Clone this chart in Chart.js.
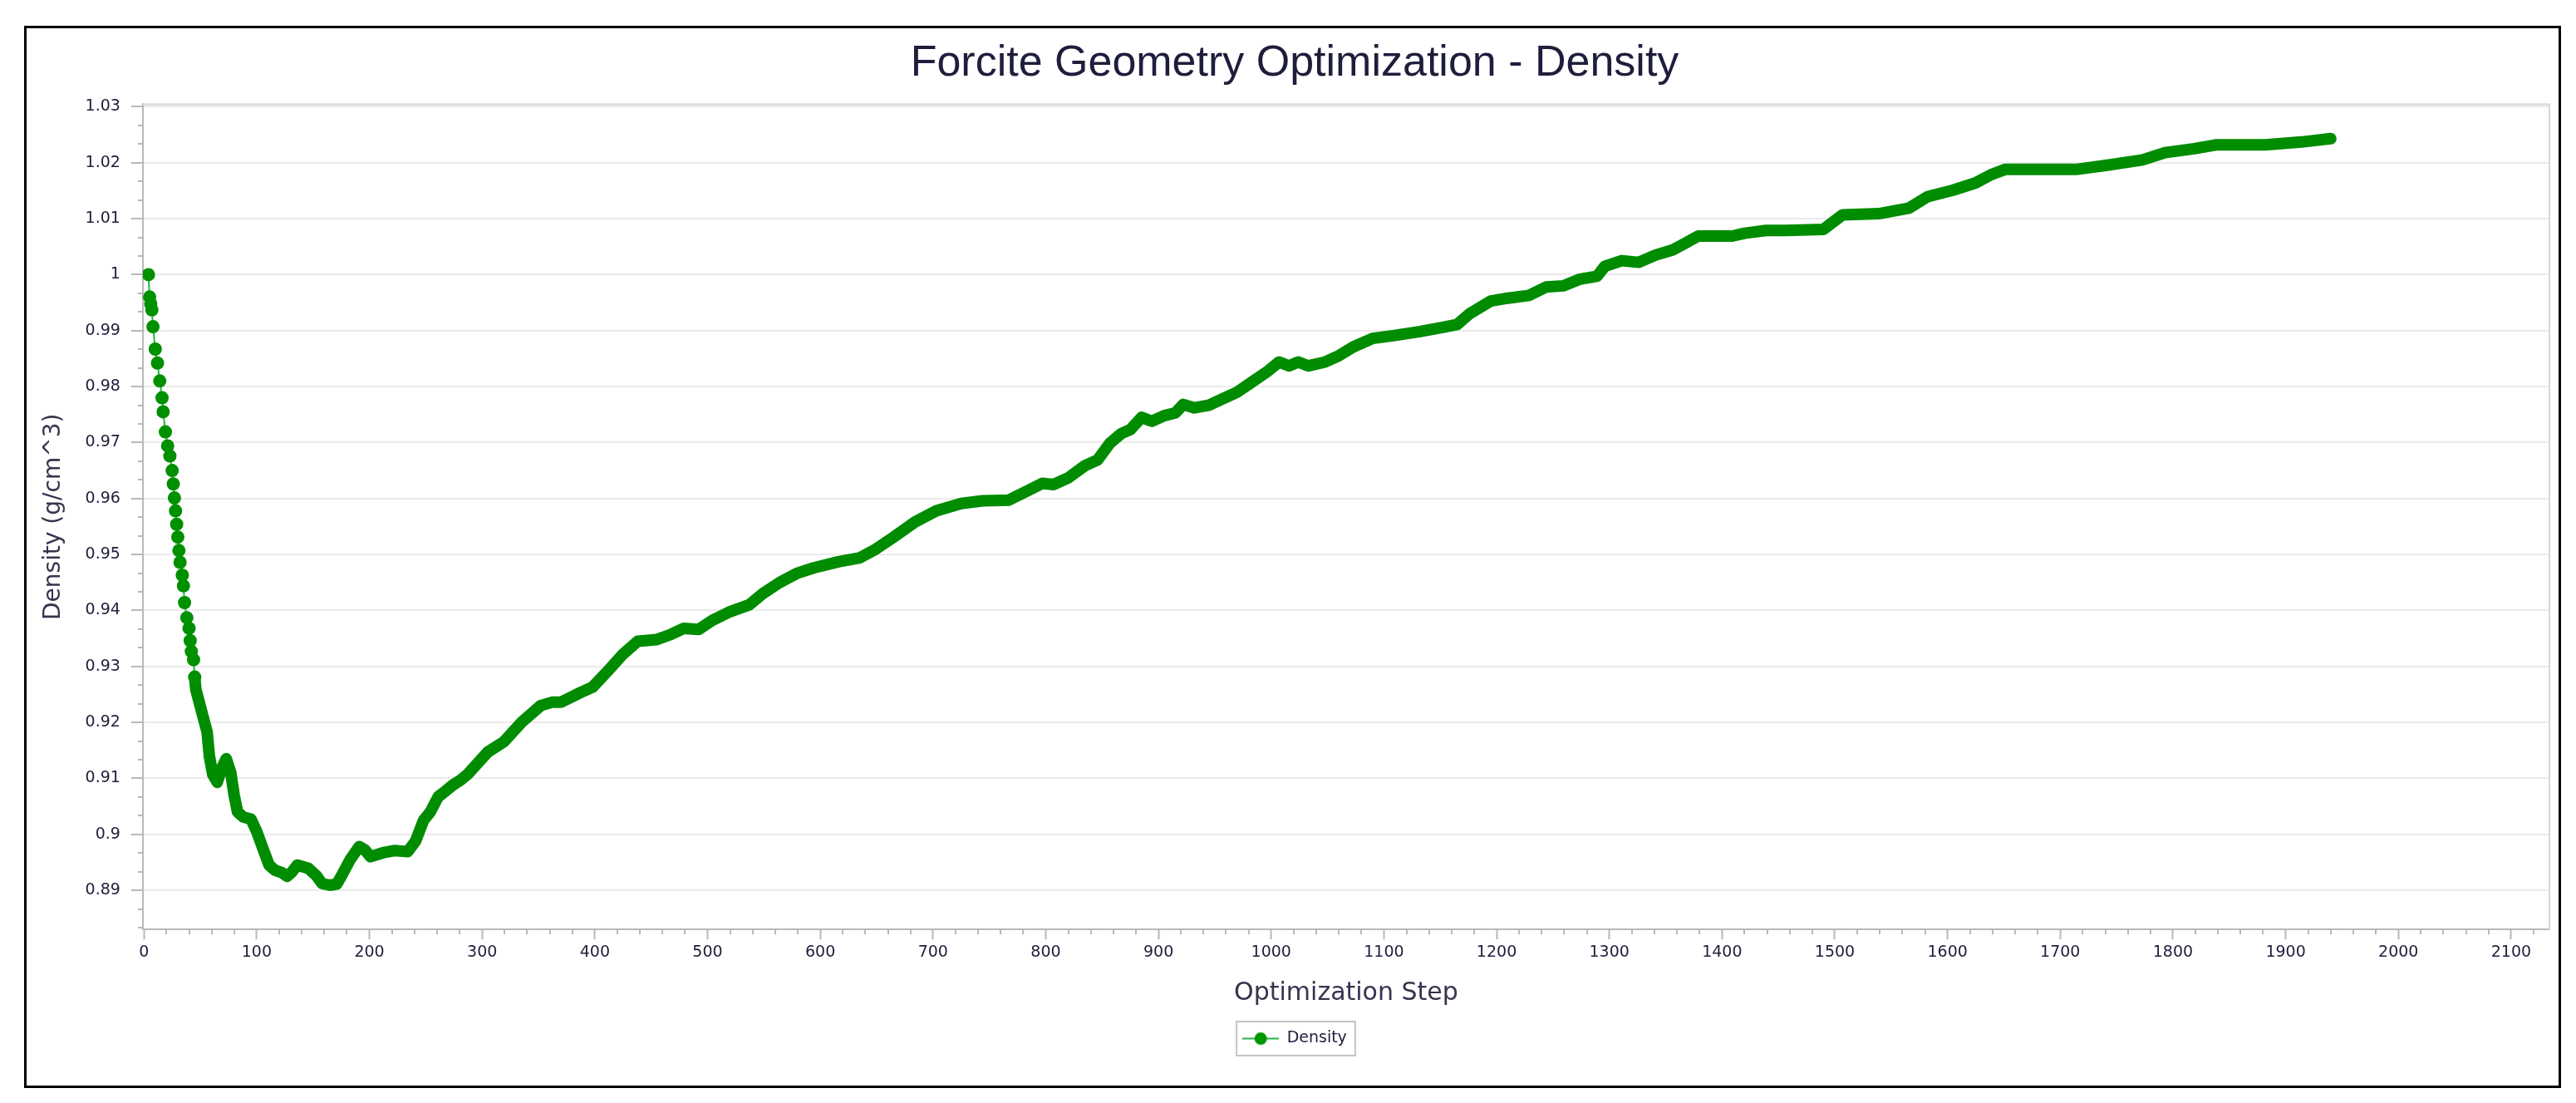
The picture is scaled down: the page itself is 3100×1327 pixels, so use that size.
<!DOCTYPE html>
<html>
<head>
<meta charset="utf-8">
<script src="https://cdn.jsdelivr.net/npm/chart.js@4.4.1/dist/chart.umd.min.js"></script>
<style>
  body { margin: 0; background: #fff; }
  #frame {
    position: absolute;
    left: 29px;
    top: 31px;
    width: 3047px;
    height: 1272px;
    border: 3px solid #000;
  }
  canvas { display: block; }
</style>
</head>
<body>
<div id="frame"><canvas id="densityChart" width="3047" height="1272"></canvas></div>
<script>
// Optimization steps
const steps = [
  4, 5, 6, 7, 8, 10, 12, 14, 16, 17, 19, 21, 23, 25, 26, 27, 28, 29, 30, 31,
  32, 34, 35, 36, 38, 40, 41, 42, 44, 45,
  46, 52, 56, 58, 61, 65, 69, 73, 77, 80, 83, 88, 95, 100, 106, 111, 116, 122, 127, 131,
  136, 146, 153, 158, 165, 171, 175, 183, 191, 196, 201, 212, 222, 234, 241, 248, 254, 261, 268, 274,
  281, 287, 305, 319, 335, 352, 362, 370, 387, 398, 412, 425, 438, 455, 466, 479, 492, 504, 519, 537,
  549, 564, 579, 594, 616, 635, 648, 665, 684, 703, 725, 744, 767, 782, 797, 807, 820, 835, 846, 857,
  867, 875, 885, 894, 905, 915, 922, 932, 945, 958, 969, 980, 996, 1007, 1016, 1024, 1033, 1048, 1059, 1073,
  1090, 1108, 1131, 1153, 1165, 1176, 1195, 1210, 1229, 1244, 1259, 1274, 1289, 1296, 1311, 1326, 1341, 1356, 1368, 1379,
  1409, 1420, 1439, 1456, 1490, 1507, 1539, 1566, 1582, 1605, 1625, 1638, 1651, 1714, 1743, 1773, 1793, 1819, 1839, 1882,
  1914, 1940
];

// Density (g/cm^3) at each step
const density = [
  1.0000, 0.9960, 0.9948, 0.9937, 0.9907, 0.9867, 0.9842, 0.9810, 0.9780, 0.9755, 0.9719, 0.9694, 0.9676, 0.9650, 0.9626, 0.9601, 0.9578, 0.9554, 0.9531, 0.9507,
  0.9486, 0.9463, 0.9444, 0.9414, 0.9387, 0.9368, 0.9346, 0.9327, 0.9312, 0.9281,
  0.9259, 0.9213, 0.9183, 0.9140, 0.9107, 0.9093, 0.9118, 0.9135, 0.9110, 0.9070, 0.9040, 0.9031, 0.9027, 0.9005, 0.8972, 0.8945, 0.8936, 0.8932, 0.8925, 0.8932,
  0.8945, 0.8939, 0.8926, 0.8912, 0.8909, 0.8911, 0.8925, 0.8955, 0.8978, 0.8972, 0.8960, 0.8967, 0.8971, 0.8969, 0.8988, 0.9025, 0.9040, 0.9067, 0.9078, 0.9088,
  0.9097, 0.9107, 0.9147, 0.9165, 0.9200, 0.9230, 0.9236, 0.9236, 0.9253, 0.9263, 0.9293, 0.9322, 0.9345, 0.9348, 0.9356, 0.9368, 0.9366, 0.9382, 0.9397, 0.9410,
  0.9430, 0.9450, 0.9466, 0.9476, 0.9487, 0.9494, 0.9508, 0.9531, 0.9558, 0.9578, 0.9591, 0.9596, 0.9597, 0.9612, 0.9627, 0.9625, 0.9637, 0.9659, 0.9669, 0.9699,
  0.9716, 0.9723, 0.9745, 0.9738, 0.9748, 0.9753, 0.9768, 0.9762, 0.9767, 0.9779, 0.9789, 0.9804, 0.9826, 0.9844, 0.9837, 0.9844, 0.9837, 0.9844, 0.9854, 0.9871,
  0.9886, 0.9891, 0.9898, 0.9906, 0.9911, 0.9930, 0.9953, 0.9958, 0.9963, 0.9978, 0.9980, 0.9992, 0.9997, 1.0015, 1.0025, 1.0022, 1.0035, 1.0044, 1.0057, 1.0069,
  1.0069, 1.0074, 1.0079, 1.0079, 1.0081, 1.0107, 1.0109, 1.0119, 1.0139, 1.0151, 1.0164, 1.0178, 1.0188, 1.0188, 1.0196, 1.0205, 1.0218, 1.0225, 1.0232, 1.0232,
  1.0237, 1.0243
];

// Axis tick labels
const xTickValues = [0, 100, 200, 300, 400, 500, 600, 700, 800, 900, 1000,
  1100, 1200, 1300, 1400, 1500, 1600, 1700, 1800, 1900, 2000, 2100];
const yTickValues = [0.89, 0.90, 0.91, 0.92, 0.93, 0.94, 0.95, 0.96, 0.97,
  0.98, 0.99, 1.00, 1.01, 1.02, 1.03];

const sparseUntil = 45; // early steps are drawn as separate dots
const darkGreen = '#008c00';
const lightGreen = '#25b545';
const textColor = '#1e1e3c';

Chart.defaults.font.family = 'DejaVu Sans';

// legend symbol: thin line with a dot on it
const legendSymbol = document.createElement('canvas');
legendSymbol.width = 44;
legendSymbol.height = 18;
const sctx = legendSymbol.getContext('2d');
sctx.strokeStyle = lightGreen;
sctx.lineWidth = 2;
sctx.beginPath();
sctx.moveTo(0, 9);
sctx.lineTo(44, 9);
sctx.stroke();
sctx.fillStyle = '#009600';
sctx.beginPath();
sctx.arc(22, 9, 7.5, 0, Math.PI * 2);
sctx.fill();

// plot frame, minor ticks and legend box
const decorations = {
  id: 'decorations',
  afterDraw(chart) {
    const { ctx, chartArea: a, scales: { x, y } } = chart;
    ctx.save();
    ctx.strokeStyle = '#d6d6d6';
    ctx.lineWidth = 2;
    ctx.beginPath();
    ctx.moveTo(a.left, a.top);
    ctx.lineTo(a.right, a.top);
    ctx.lineTo(a.right, a.bottom);
    ctx.stroke();

    ctx.strokeStyle = '#b8b8b8';
    ctx.lineWidth = 2;
    ctx.beginPath();
    for (let k = Math.ceil(y.min * 300); k <= Math.floor(y.max * 300); k++) {
      if (k % 3 === 0) continue;
      const py = Math.round(y.getPixelForValue(k / 300));
      ctx.moveTo(a.left - 6, py);
      ctx.lineTo(a.left, py);
    }
    for (let v = 20; v <= x.max; v += 20) {
      if (v % 100 === 0) continue;
      const px = Math.round(x.getPixelForValue(v));
      ctx.moveTo(px, a.bottom);
      ctx.lineTo(px, a.bottom + 6);
    }
    ctx.stroke();

    const hit = chart.legend.legendHitBoxes[0];
    if (hit) {
      ctx.strokeStyle = '#c4c4c4';
      ctx.lineWidth = 2;
      ctx.strokeRect(hit.left - 7, hit.top + hit.height / 2 - 20.5, hit.width + 17, 41);
    }
    ctx.restore();
  }
};

const ctx = document.getElementById('densityChart').getContext('2d');

new Chart(ctx, {
  type: 'line',
  data: {
    datasets: [{
      label: 'Density',
      data: steps.map((s, i) => ({ x: s, y: density[i] })),
      borderColor: darkGreen,
      backgroundColor: darkGreen,
      borderWidth: 14,
      borderCapStyle: 'round',
      borderJoinStyle: 'round',
      pointRadius: c => (c.raw && c.raw.x <= sparseUntil ? 8 : 0),
      pointBackgroundColor: '#009000',
      pointBorderWidth: 0,
      tension: 0,
      segment: {
        borderWidth: c => (c.p1.parsed.x <= sparseUntil ? 2 : 14),
        borderColor: c => (c.p1.parsed.x <= sparseUntil ? lightGreen : darkGreen)
      }
    }]
  },
  options: {
    responsive: false,
    devicePixelRatio: 1,
    animation: false,
    layout: {
      padding: { left: 16, right: 11, top: 0, bottom: 37 }
    },
    scales: {
      x: {
        type: 'linear',
        min: -1,
        max: 2134,
        afterBuildTicks: scale => {
          scale.ticks = xTickValues.map(v => ({ value: v }));
        },
        grid: {
          drawOnChartArea: false,
          drawTicks: true,
          tickLength: 12,
          tickColor: '#b8b8b8',
          tickWidth: 2
        },
        border: { color: '#b8b8b8', width: 2 },
        ticks: {
          padding: 4,
          color: textColor,
          font: { size: 19 },
          maxRotation: 0,
          autoSkip: false,
          callback: v => String(v)
        },
        title: {
          display: true,
          text: 'Optimization Step',
          color: '#35354f',
          font: { size: 30 },
          padding: { top: 16, bottom: 17 }
        }
      },
      y: {
        type: 'linear',
        min: 0.883,
        max: 1.03045,
        afterBuildTicks: scale => {
          scale.ticks = yTickValues.map(v => ({ value: v }));
        },
        grid: {
          color: '#ebebeb',
          lineWidth: 2,
          tickLength: 14,
          tickColor: '#b8b8b8',
          tickWidth: 2
        },
        border: { color: '#b8b8b8', width: 2 },
        ticks: {
          padding: 13,
          color: textColor,
          font: { size: 19 },
          autoSkip: false,
          callback: v => String(Number(v.toFixed(2)))
        },
        title: {
          display: true,
          text: 'Density (g/cm^3)',
          color: '#35354f',
          font: { size: 28 },
          padding: { top: 0, bottom: 8 }
        }
      }
    },
    plugins: {
      title: {
        display: true,
        text: 'Forcite Geometry Optimization - Density',
        color: textColor,
        font: { family: 'Liberation Sans', size: 52, weight: 'normal' },
        padding: { top: 11, bottom: 18 }
      },
      legend: {
        position: 'bottom',
        labels: {
          usePointStyle: true,
          pointStyleWidth: 44,
          color: textColor,
          font: { size: 19 },
          generateLabels: chart => [{
            text: 'Density',
            pointStyle: legendSymbol,
            fontColor: textColor,
            datasetIndex: 0,
            hidden: false,
            lineWidth: 0
          }]
        }
      },
      tooltip: { enabled: false }
    }
  },
  plugins: [decorations]
});
</script>
</body>
</html>
